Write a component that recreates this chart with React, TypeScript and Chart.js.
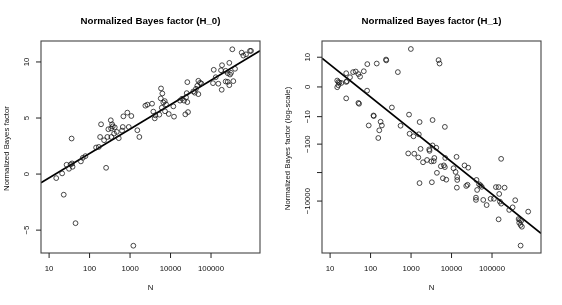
import React, { useEffect, useRef } from "react";
import { Chart, registerables } from "chart.js";

Chart.register(...registerables);

// ---------- data ----------
const H0_N = [
  15, 21, 23, 27, 31, 34, 37, 38, 36, 45, 61, 68, 79, 145, 169, 182, 192, 228, 256, 275,
  291, 334, 340, 345, 360, 374, 403, 419, 470, 526, 661, 684, 634, 857, 929, 1077, 1206, 1513, 1697, 2389,
  2675, 3493, 3760, 4072, 4214, 5288, 5821, 6276, 5728, 6637, 7190, 7745, 6070, 7310, 9034, 11730, 12190, 17170, 19230, 21550,
  24150, 26000, 26000, 23170, 27050, 25100, 36570, 39600, 42660, 45950, 48660, 53500, 57630, 48660, 112000, 116700, 130700, 151400, 176500, 186900,
  183600, 230500, 230500, 258400, 258400, 283000, 283000, 294500, 311900, 355600, 391700, 335800, 572800, 628000, 731600, 918400, 972000,
];
const H0_BF = [
  -0.36, 0.06, -1.84, 0.83, 0.47, 0.86, 0.95, 0.65, 3.17, -4.38, 1.13, 1.45, 1.6, 2.37, 2.42, 3.31, 4.44, 3.02, 0.56, 3.31,
  4.0, 4.8, 4.07, 3.31, 4.44, 4.26, 3.61, 4.17, 3.76, 3.2, 4.2, 5.15, 3.88, 5.48, 4.2, 5.18, -6.39, 3.91, 3.31, 6.1,
  6.19, 6.28, 5.57, 4.97, 5.24, 5.3, 7.64, 7.19, 6.75, 6.39, 6.51, 6.22, 5.92, 5.6, 5.36, 6.04, 5.12, 6.55, 6.72, 6.55,
  6.84, 6.42, 8.2, 5.33, 5.53, 7.22, 7.37, 7.26, 7.61, 7.88, 8.32, 8.14, 8.08, 7.13, 8.11, 9.3, 8.64, 8.06, 9.26, 9.71,
  7.52, 8.26, 9.21, 9.0, 8.23, 7.93, 9.92, 8.88, 9.03, 8.29, 9.39, 11.13, 10.83, 10.57, 10.68, 10.99, 10.99,
];

// y in signed log units: sign(bf) * log10(1 + |bf|)
const H1_N = [
  15, 16, 17, 16, 15, 19, 25, 25, 26, 31, 37, 43, 50, 55, 68, 25, 50, 52, 83, 142,
  241, 244, 82, 472, 118, 120, 90, 177, 190, 164, 155, 336, 550, 989, 4777, 5057, 891, 1629, 3400, 6840,
  920, 1148, 1555, 3400, 4190, 1718, 2812, 2860, 851, 1200, 1510, 3760, 3630, 3163, 2483, 1977, 6990, 13290, 5450, 6460,
  6840, 4350, 11200, 12590, 20940, 25820, 6110, 7410, 13830, 13830, 13520, 23070, 24830, 1620, 3266, 168000, 41400, 42850, 47800, 51800,
  55700, 40100, 40100, 60700, 73600, 92400, 111500, 124800, 145500, 204800, 150600, 156700, 168700, 145500, 266000, 322700, 374300, 453800, 488700, 469800,
  508600, 526200, 547000, 783000, 508600,
];
const H1_BF_LOG = [
  0.224, 0.175, 0.154, 0.06, -0.01, 0.14, 0.48, 0.175, 0.2, 0.34, 0.52, 0.54, 0.45, 0.36, 0.55, -0.4, -0.56, -0.59, 0.8, 0.82,
  0.96, 0.93, -0.13, 0.52, -1.0, -1.02, -1.35, -1.22, -1.35, -1.52, -1.79, -0.72, -1.36, 1.33, 0.94, 0.82, -0.97, -1.23, -1.16, -1.4,
  -1.64, -1.73, -1.66, -2.05, -2.13, -2.17, -2.19, -2.24, -2.33, -2.34, -2.47, -2.49, -2.6, -2.61, -2.56, -2.64, -2.49, -2.45, -2.78, -2.75,
  -2.81, -3.01, -2.85, -2.98, -2.75, -2.83, -3.2, -3.25, -3.16, -3.26, -3.53, -3.47, -3.43, -3.37, -3.34, -2.52, -3.26, -3.61, -3.41, -3.45,
  -3.5, -3.88, -3.96, -3.96, -4.14, -3.92, -3.92, -3.51, -3.51, -3.53, -3.75, -4.02, -4.09, -4.64, -4.31, -4.22, -3.97, -4.63, -4.66, -4.76,
  -4.84, -4.69, -4.9, -4.37, -5.56,
];

const X_TICKS = [10, 100, 1000, 10000, 100000];
const X_TICK_LABELS = ["10", "100", "1000", "10000", "100000"];
const X_LOG_RANGE = [0.8, 6.21];

const H0_Y_TICKS = [-5, 0, 5, 10];
const H0_Y_TICK_LABELS = ["\u22125", "0", "5", "10"];
const H0_Y_RANGE = [-7.04, 11.87];

const H1_Y_TICK_VALUES = [10, 0, -10, -100, -1000, -10000];
const H1_Y_TICK_LABELS = ["10", "0", "\u221210", "\u2212100", "", "\u221210000"];
const H1_Y_RANGE = [-5.82, 1.61];

// fitted lines: y = intercept + slope * log10(N)
const H0_FIT = { intercept: -2.51, slope: 2.176 };
const H1_FIT = { intercept: 1.915, slope: -1.135 };

const TITLES = ["Normalized Bayes factor (H_0)", "Normalized Bayes factor (H_1)"];
const Y_TITLES = ["Normalized Bayes factor", "Normalized Bayes factor (log-scale)"];
const X_TITLE = "N";

const signedLog = (v: number) => Math.sign(v) * Math.log10(1 + Math.abs(v));

const FONT = '"Liberation Sans", Arial, Helvetica, sans-serif';

const rAxesPlugin = {
  id: "rAxes",
  afterDraw(chart: any, _args: any, opts: any) {
    const { ctx, chartArea: a, scales } = chart;
    const x = scales.x;
    const y = scales.y;
    ctx.save();
    // box
    ctx.strokeStyle = "#444";
    ctx.lineWidth = 1.1;
    ctx.strokeRect(a.left, a.top, a.right - a.left, a.bottom - a.top);
    ctx.strokeStyle = "#222";
    ctx.lineWidth = 1;
    ctx.fillStyle = "#111";
    ctx.font = `7.8px ${FONT}`;
    ctx.textAlign = "center";
    ctx.textBaseline = "middle";
    // x ticks
    opts.xTicks.forEach((v: number, i: number) => {
      const px = x.getPixelForValue(v);
      ctx.beginPath();
      ctx.moveTo(px, a.bottom);
      ctx.lineTo(px, a.bottom + 5);
      ctx.stroke();
      ctx.fillText(opts.xLabels[i], px, a.bottom + 16);
    });
    // y ticks
    opts.yTicks.forEach((v: number, i: number) => {
      const py = y.getPixelForValue(v);
      ctx.beginPath();
      ctx.moveTo(a.left - 5, py);
      ctx.lineTo(a.left, py);
      ctx.stroke();
      if (opts.yLabels[i]) {
        ctx.save();
        ctx.translate(a.left - 14.3, py);
        ctx.rotate(-Math.PI / 2);
        ctx.fillText(opts.yLabels[i], 0, 0);
        ctx.restore();
      }
    });
    // axis titles
    ctx.fillText(opts.xTitle, (a.left + a.right) / 2, 288);
    ctx.save();
    ctx.translate(6.5, (a.top + a.bottom) / 2 + 1.5);
    ctx.rotate(-Math.PI / 2);
    ctx.fillText(opts.yTitle, 0, 0);
    ctx.restore();
    // main title
    ctx.fillStyle = "#000";
    ctx.font = `bold 9.7px ${FONT}`;
    ctx.fillText(opts.title, (a.left + a.right) / 2, 21);
    ctx.restore();
  },
};

type PanelProps = {
  xs: number[];
  ys: number[];
  fit: { intercept: number; slope: number };
  yRange: number[];
  yTicks: number[];
  yLabels: string[];
  title: string;
  yTitle: string;
};

function Panel(props: PanelProps) {
  const ref = useRef<HTMLCanvasElement>(null);
  useEffect(() => {
    if (!ref.current) return;
    const xmin = Math.pow(10, X_LOG_RANGE[0]);
    const xmax = Math.pow(10, X_LOG_RANGE[1]);
    const points = props.xs.map((n, i) => ({ x: n, y: props.ys[i] }));
    const fitAt = (n: number) => props.fit.intercept + props.fit.slope * Math.log10(n);
    const chart = new Chart(ref.current, {
      type: "scatter",
      data: {
        datasets: [
          {
            data: points,
            pointStyle: "circle",
            pointRadius: 2.4,
            pointBorderWidth: 0.8,
            pointBorderColor: "#1a1a1a",
            pointBackgroundColor: "rgba(0,0,0,0)",
            borderColor: "#1a1a1a",
            backgroundColor: "rgba(0,0,0,0)",
            showLine: false,
          },
          {
            data: [
              { x: xmin, y: fitAt(xmin) },
              { x: xmax, y: fitAt(xmax) },
            ],
            showLine: true,
            borderColor: "#000",
            borderWidth: 1.7,
            pointRadius: 0,
            fill: false,
          },
        ],
      },
      options: {
        animation: false,
        responsive: false,
        devicePixelRatio: 1,
        layout: { padding: { left: 41, right: 21, top: 41, bottom: 52 } },
        scales: {
          x: { type: "logarithmic", min: xmin, max: xmax, display: false },
          y: { type: "linear", min: props.yRange[0], max: props.yRange[1], display: false },
        },
        plugins: {
          legend: { display: false },
          tooltip: { enabled: false },
          title: { display: false },
          rAxes: {
            xTicks: X_TICKS,
            xLabels: X_TICK_LABELS,
            yTicks: props.yTicks,
            yLabels: props.yLabels,
            title: props.title,
            yTitle: props.yTitle,
            xTitle: X_TITLE,
          },
        } as any,
      },
      plugins: [rAxesPlugin as any],
    });
    return () => chart.destroy();
  }, []);
  return <canvas ref={ref} width={281} height={305} style={{ display: "block", width: 281, height: 305 }} />;
}

export default function App() {
  return (
    <div
      style={{
        position: "fixed",
        left: 0,
        top: 0,
        width: 562,
        height: 305,
        display: "flex",
        background: "#fff",
      }}
    >
      <Panel
        xs={H0_N}
        ys={H0_BF}
        fit={H0_FIT}
        yRange={H0_Y_RANGE}
        yTicks={H0_Y_TICKS}
        yLabels={H0_Y_TICK_LABELS}
        title={TITLES[0]}
        yTitle={Y_TITLES[0]}
      />
      <Panel
        xs={H1_N}
        ys={H1_BF_LOG}
        fit={H1_FIT}
        yRange={H1_Y_RANGE}
        yTicks={H1_Y_TICK_VALUES.map(signedLog)}
        yLabels={H1_Y_TICK_LABELS}
        title={TITLES[1]}
        yTitle={Y_TITLES[1]}
      />
    </div>
  );
}
